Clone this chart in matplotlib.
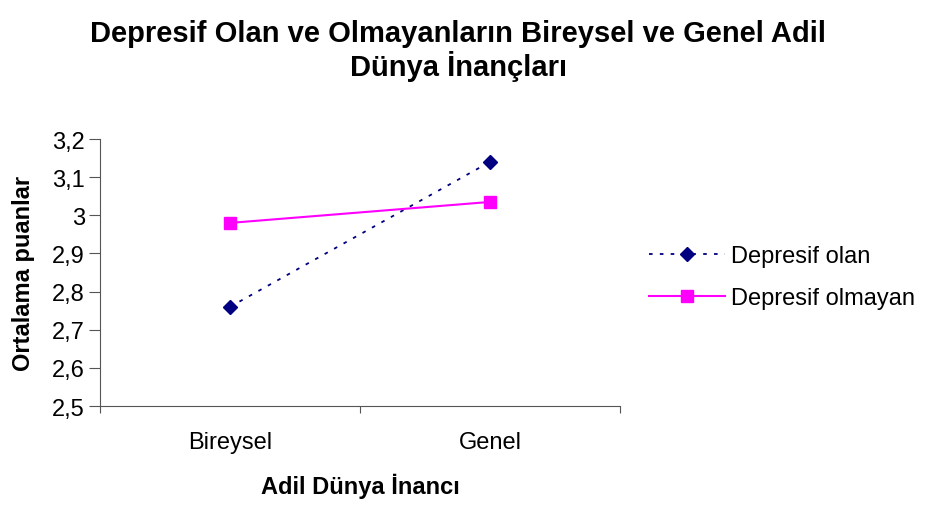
import matplotlib
matplotlib.use("Agg")
import matplotlib.pyplot as plt
from matplotlib.ticker import FixedLocator, NullFormatter, FixedFormatter

plt.rcParams['font.family'] = ['Liberation Sans', 'DejaVu Sans']

categories = ["Bireysel", "Genel"]
depresif_olan = [2.76, 3.14]
depresif_olmayan = [2.98, 3.035]
yticks = [2.5, 2.6, 2.7, 2.8, 2.9, 3.0, 3.1, 3.2]
ytick_labels = ["2,5", "2,6", "2,7", "2,8", "2,9", "3", "3,1", "3,2"]

fig = plt.figure(figsize=(9.26, 5.06), dpi=100)
ax = fig.add_axes([100/926, 1-407/506, 520/926, 267/506])

xpos = [i + 0.5 for i in range(len(categories))]
ax.plot(xpos, depresif_olan, linestyle=(0, (2, 4)), color="#000080", lw=1.3,
        marker="D", markersize=7, label="Depresif olan")
ax.plot(xpos, depresif_olmayan, linestyle="-", color="#FF00FF", lw=1.5,
        marker="s", markersize=8, label="Depresif olmayan")

ax.set_xlim(0, len(categories))
ax.set_ylim(2.5, 3.2)
ax.set_yticks(yticks)
ax.set_yticklabels(ytick_labels, fontsize=17)
ax.xaxis.set_major_locator(FixedLocator(list(range(len(categories) + 1))))
ax.xaxis.set_major_formatter(NullFormatter())
ax.xaxis.set_minor_locator(FixedLocator(xpos))
ax.xaxis.set_minor_formatter(FixedFormatter(categories))
ax.tick_params(axis='x', which='minor', length=0, labelsize=17, pad=18)
ax.tick_params(axis='x', which='major', length=5, direction='out', color='#555555')
ax.tick_params(axis='y', length=8, direction='out', color='#555555', pad=3)

for s in ['top', 'right']:
    ax.spines[s].set_visible(False)
for s in ['left', 'bottom']:
    ax.spines[s].set_color('#555555')

ax.set_xlabel("Adil Dünya İnancı", fontsize=17, fontweight='bold', labelpad=14)
ax.set_ylabel("Ortalama puanlar", fontsize=17, fontweight='bold', labelpad=12)

fig.text(458/926, 1-51/506, "Depresif Olan ve Olmayanların Bireysel ve Genel Adil\nDünya İnançları",
         ha='center', va='center', fontsize=21, fontweight='bold', linespacing=1.15)

ax.legend(loc='center left', bbox_to_anchor=(628/926, 1-278/506), bbox_transform=fig.transFigure,
          frameon=False, fontsize=17, handlelength=3.2, labelspacing=0.85, handletextpad=0.25)

fig.savefig("out.png", dpi=100)
